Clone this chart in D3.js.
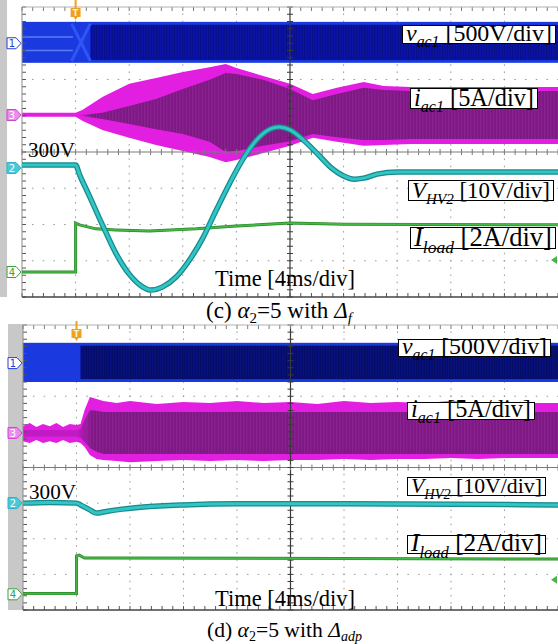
<!DOCTYPE html>
<html>
<head>
<meta charset="utf-8">
<script src="https://cdn.jsdelivr.net/npm/d3@7/dist/d3.min.js"></script>
<style>
html,body{margin:0;padding:0;background:#fff;}
svg{display:block;font-family:"Liberation Serif","Times New Roman",serif;}
</style>
</head>
<body>
<svg id="fig" width="558" height="644"></svg>
<script>
// ===== DATA: time in ms relative to the trigger, amplitudes in scope divisions from screen centre =====
const timeDomain = [-4, 36];   // 10 div x 4 ms/div
const divDomain  = [-4, 4];    // 8 vertical divisions

const labelMain  = ["v", "i", "V", "I"];
const labelSub   = ["ac1", "ac1", "HV2", "load"];
const labelScale = [" [500V/div]", " [5A/div]", " [10V/div]", " [2A/div]"];
const timeText   = "Time [4ms/div]";
const refText    = "300V";
const channelIds = ["1", "3", "2", "4"];
const captionC   = [["(c) ", ""], ["α", "i"], ["2", "sub"], ["=5 with ", ""], ["Δ", "i"], ["f", "subi"]];
const captionD   = [["(d) ", ""], ["α", "i"], ["2", "sub"], ["=5 with ", ""], ["Δ", "i"], ["adp", "subi"]];

// ---- panel (c) ----
const cChannelLevel = [3.00, 1.02, -0.44, -3.31];
const cVacBand  = [2.46, 3.59];
const cIacT     = [-4, 0, 0.5, 2, 4, 6, 8, 10, 11.2, 12, 14, 16, 17.7, 19.5, 21.5, 23, 25, 36];
const cIacOutHi = [1.08, 1.08, 1.16, 1.52, 1.88, 2.04, 2.21, 2.34, 2.43, 2.32, 2.10, 1.88, 1.60, 1.77, 1.93, 1.82, 1.79, 1.79];
const cIacOutLo = [0.97, 0.97, 0.86, 0.61, 0.39, 0.19, 0.03, -0.14, -0.28, -0.22, -0.03, 0.17, 0.39, 0.28, 0.17, 0.19, 0.22, 0.22];
const cIacInHi  = [1.02, 1.02, 1.02, 1.08, 1.27, 1.46, 1.74, 1.99, 2.18, 2.15, 1.99, 1.74, 1.43, 1.60, 1.77, 1.71, 1.68, 1.68];
const cIacInLo  = [1.02, 1.02, 0.99, 0.91, 0.77, 0.63, 0.50, 0.28, 0.00, 0.03, 0.17, 0.30, 0.50, 0.41, 0.33, 0.33, 0.36, 0.36];
const cVhvT     = [-4, 0, 0.3, 1, 2, 3, 4, 5, 5.6, 6.5, 7.5, 8.5, 9.5, 10.5, 11.5, 12.5, 13.5, 14.5, 15.2, 16, 17, 18, 19, 20, 20.8, 21.5, 22.5, 24, 36];
const cVhv      = [-0.36, -0.36, -0.63, -1.19, -2.01, -2.79, -3.37, -3.72, -3.81, -3.72, -3.45, -2.98, -2.37, -1.60, -0.86, -0.19, 0.33, 0.63, 0.69, 0.61, 0.33, -0.03, -0.41, -0.66, -0.75, -0.72, -0.61, -0.55, -0.55];
const cLoadT    = [-4, 0, 0, 0.3, 1.5, 3, 5.5, 9, 12, 16, 20, 36];
const cLoad     = [-3.31, -3.31, -1.96, -2.01, -2.12, -2.15, -2.18, -2.12, -2.04, -1.96, -1.99, -2.01];
const cTrigLevel = -2.98;

// ---- panel (d) ----
const dChannelLevel = [2.93, 0.97, -1.00, -3.56];
const dVacBand  = [2.40, 3.50];
const dIacT     = [-4, -3.5, -3, -2.5, -2, -1.5, -1, -0.5, 0, 0.3, 0.6, 1, 1.5, 2, 3, 4, 6, 8, 10, 12, 14, 16, 18, 20, 22, 24, 26, 28, 30, 32, 34, 36];
const dIacOutHi = [1.16, 1.25, 1.14, 1.22, 1.16, 1.25, 1.14, 1.22, 1.19, 1.22, 1.61, 1.98, 1.92, 1.87, 1.81, 1.87, 1.78, 1.84, 1.81, 1.87, 1.81, 1.84, 1.78, 1.87, 1.81, 1.84, 1.81, 1.87, 1.81, 1.84, 1.81, 1.81];
const dIacOutLo = [0.74, 0.69, 0.77, 0.69, 0.74, 0.69, 0.77, 0.69, 0.72, 0.69, 0.58, 0.35, 0.24, 0.21, 0.18, 0.15, 0.18, 0.21, 0.18, 0.21, 0.18, 0.21, 0.21, 0.24, 0.21, 0.24, 0.24, 0.27, 0.24, 0.27, 0.27, 0.27];
const dIacInHi  = [1.05, 1.05, 1.05, 1.05, 1.05, 1.05, 1.05, 1.05, 1.05, 1.08, 1.33, 1.61, 1.59, 1.56, 1.56, 1.56, 1.56, 1.56, 1.56, 1.56, 1.56, 1.56, 1.56, 1.56, 1.56, 1.56, 1.56, 1.56, 1.56, 1.56, 1.56, 1.56];
const dIacInLo  = [0.86, 0.86, 0.86, 0.86, 0.86, 0.86, 0.86, 0.86, 0.86, 0.83, 0.72, 0.55, 0.44, 0.38, 0.38, 0.38, 0.38, 0.38, 0.38, 0.38, 0.38, 0.38, 0.38, 0.38, 0.38, 0.38, 0.38, 0.38, 0.38, 0.38, 0.38, 0.38];
const dVhvT     = [-4, -2, 0, 0.3, 1, 1.5, 2, 3, 5, 8, 12, 20, 36];
const dVhv      = [-1.00, -0.98, -1.00, -1.05, -1.19, -1.28, -1.25, -1.19, -1.11, -1.05, -1.02, -1.02, -1.05];
const dLoadT    = [-4, 0, 0, 0.2, 0.6, 2, 36];
const dLoad     = [-3.54, -3.54, -2.48, -2.46, -2.54, -2.54, -2.57];
const dTrigLevel = -3.15;

// ===== LAYOUT / STYLE =====
const C = {
  blue: "#1a3ae0", blueStripe: "#5c7cf4",
  mag: "#e21fe0", magMid: "#c11cc4", purple: "#7f1884",
  teal: "#33c4c4", tealDark: "#168a8c", green: "#44b844", greenDark: "#2a8a2a",
  grid: "#9c9c9c", axis: "#7a7a7a", axisV: "#3a3a3a", strip: "#c8c8c8", orange: "#f0a020"
};

const svg = d3.select("#fig");
const defs = svg.append("defs");

function zip(ts, ...arrs) { return ts.map((t, i) => ({t, v: arrs.map(a => a[i])})); }

function drawPanel(P) {
  const x = d3.scaleLinear().domain(timeDomain).range([P.left, P.right]);
  const y = d3.scaleLinear().domain(divDomain).range([P.bottom, P.top]);
  const g = svg.append("g");

  // gray side strip
  g.append("rect").attr("x", P.strip[0]).attr("y", P.strip[1])
    .attr("width", P.strip[2] - P.strip[0]).attr("height", P.strip[3] - P.strip[1]).attr("fill", C.strip);

  // dotted grid
  const vLines = d3.range(timeDomain[0] + 4, timeDomain[1], 4).filter(t => t !== 16);
  const hLines = d3.range(divDomain[0] + 1, divDomain[1], 1).filter(v => v !== 0);
  const stepX = (x(4) - x(0)) / 5, stepY = (y(0) - y(1)) / 5;
  g.selectAll(".vg").data(vLines).enter().append("line")
    .attr("x1", d => x(d)).attr("x2", d => x(d)).attr("y1", P.top).attr("y2", P.bottom)
    .attr("stroke", C.grid).attr("stroke-width", 1)
    .attr("stroke-dasharray", `1.6 ${stepY - 1.6}`).attr("stroke-dashoffset", 0.8);
  g.selectAll(".hg").data(hLines).enter().append("line")
    .attr("x1", P.left).attr("x2", P.right).attr("y1", d => y(d)).attr("y2", d => y(d))
    .attr("stroke", C.grid).attr("stroke-width", 1)
    .attr("stroke-dasharray", `1.6 ${stepX - 1.6}`).attr("stroke-dashoffset", 0.8);

  // v_ac1 band
  const vb = P.vac;
  g.append("rect").attr("x", x(timeDomain[0])).attr("width", x(timeDomain[1]) - x(timeDomain[0]))
    .attr("y", y(vb[1])).attr("height", y(vb[0]) - y(vb[1])).attr("fill", C.blue);
  g.append("rect").attr("x", x(P.navyStart)).attr("width", x(timeDomain[1]) - x(P.navyStart))
    .attr("y", y(vb[1] - P.navyEdge)).attr("height", y(vb[0] + P.navyEdge) - y(vb[1] - P.navyEdge))
    .attr("fill", P.navy);
  const bpid = "bp" + P.id;
  const bpat = defs.append("pattern").attr("id", bpid).attr("patternUnits", "userSpaceOnUse")
    .attr("width", 2.6).attr("height", 10);
  bpat.append("rect").attr("width", 0.9).attr("height", 10).attr("fill", "#000").attr("opacity", 0.25);
  g.append("rect").attr("x", x(P.navyStart)).attr("width", x(timeDomain[1]) - x(P.navyStart))
    .attr("y", y(vb[1] - P.navyEdge)).attr("height", y(vb[0] + P.navyEdge) - y(vb[1] - P.navyEdge))
    .attr("fill", `url(#${bpid})`);
  if (P.stripes) {
    const ln = d3.line().x(d => x(d[0])).y(d => y(d[1]));
    const a = vb[0] + (vb[1] - vb[0]) * 0.3, b = vb[0] + (vb[1] - vb[0]) * 0.63;
    [[[timeDomain[0], a], [-0.2, a]], [[timeDomain[0], b], [-0.2, b]]].forEach(p =>
      g.append("path").attr("d", ln(p)).attr("fill", "none").attr("stroke", C.blueStripe).attr("stroke-width", 1.4));
    [[[-0.3, vb[1] - 0.05], [1.1, vb[0] + 0.05]], [[-0.3, vb[0] + 0.05], [1.1, vb[1] - 0.05]]].forEach(p =>
      g.append("path").attr("d", ln(p)).attr("fill", "none").attr("stroke", "#2f55f4").attr("stroke-width", 3));
  }

  // i_ac1 envelopes
  const outer = zip(P.iacT, P.iacOutHi, P.iacOutLo);
  const inner = zip(P.iacT, P.iacInHi, P.iacInLo);
  const area = d3.area().x(d => x(d.t)).y0(d => y(d.v[1])).y1(d => y(d.v[0]));
  g.append("path").attr("d", area(outer)).attr("fill", C.mag);
  const gid = "gr" + P.id;
  const grad = defs.append("linearGradient").attr("id", gid)
    .attr("gradientUnits", "userSpaceOnUse").attr("x1", x(0)).attr("x2", x(1.2)).attr("y1", 0).attr("y2", 0);
  grad.append("stop").attr("offset", 0).attr("stop-color", P.innerPre);
  grad.append("stop").attr("offset", 1).attr("stop-color", C.purple);
  g.append("path").attr("d", area(inner)).attr("fill", `url(#${gid})`);
  // switching ripple texture
  const pid = "pt" + P.id;
  const pat = defs.append("pattern").attr("id", pid).attr("patternUnits", "userSpaceOnUse")
    .attr("width", 3.2).attr("height", 10);
  pat.append("rect").attr("x", 0).attr("y", 0).attr("width", 1).attr("height", 10).attr("fill", "#a844b0").attr("opacity", 0.3);
  g.append("path").attr("d", area(inner.filter(d => d.t >= 0.5))).attr("fill", `url(#${pid})`);

  // centre axes with ticks, borders
  const tx = d3.range(timeDomain[0], timeDomain[1] + 0.001, 0.8);
  const ty = d3.range(divDomain[0], divDomain[1] + 0.001, 0.2);
  g.append("line").attr("x1", P.left).attr("x2", P.right).attr("y1", y(0)).attr("y2", y(0))
    .attr("stroke", C.axis).attr("stroke-width", 1.2);
  g.append("line").attr("x1", x(16)).attr("x2", x(16)).attr("y1", P.top).attr("y2", P.bottom)
    .attr("stroke", C.axisV).attr("stroke-width", 1.2);
  g.selectAll(".tkh").data(tx).enter().append("line")
    .attr("x1", d => x(d)).attr("x2", d => x(d)).attr("y1", y(0) - 3).attr("y2", y(0) + 3)
    .attr("stroke", C.axis).attr("stroke-width", 1);
  g.selectAll(".tkv").data(ty).enter().append("line")
    .attr("x1", x(16) - 3).attr("x2", x(16) + 3).attr("y1", d => y(d)).attr("y2", d => y(d))
    .attr("stroke", C.axisV).attr("stroke-width", 1);
  g.selectAll(".tkt").data(tx).enter().append("line")
    .attr("x1", d => x(d)).attr("x2", d => x(d)).attr("y1", P.top).attr("y2", P.top + 4)
    .attr("stroke", C.axis).attr("stroke-width", 1);
  g.selectAll(".tkb").data(tx).enter().append("line")
    .attr("x1", d => x(d)).attr("x2", d => x(d)).attr("y1", P.bottom - 4).attr("y2", P.bottom)
    .attr("stroke", "#555").attr("stroke-width", 1);
  g.selectAll(".tkl").data(ty).enter().append("line")
    .attr("x1", P.left).attr("x2", P.left + 4).attr("y1", d => y(d)).attr("y2", d => y(d))
    .attr("stroke", "#555").attr("stroke-width", 1);
  g.append("line").attr("x1", P.left).attr("x2", P.right).attr("y1", P.top).attr("y2", P.top)
    .attr("stroke", "#b0b0b0").attr("stroke-width", 1);
  g.append("line").attr("x1", P.left).attr("x2", P.right).attr("y1", P.bottom).attr("y2", P.bottom)
    .attr("stroke", "#444").attr("stroke-width", 1.5);
  g.append("line").attr("x1", P.left).attr("x2", P.left).attr("y1", P.top).attr("y2", P.bottom)
    .attr("stroke", "#8a8a8a").attr("stroke-width", 1);

  // I_load and V_HV2 traces
  const line = d3.line().x(d => x(d.t)).y(d => y(d.v[0]));
  const load = zip(P.loadT, P.load);
  g.append("path").attr("d", line(load)).attr("fill", "none").attr("stroke", C.greenDark).attr("stroke-width", 3);
  g.append("path").attr("d", line(load)).attr("fill", "none").attr("stroke", C.green).attr("stroke-width", 1.6);
  const vhv = zip(P.vhvT, P.vhv);
  const curve = d3.line().curve(d3.curveMonotoneX).x(d => x(d.t)).y(d => y(d.v[0]));
  g.append("path").attr("d", curve(vhv)).attr("fill", "none").attr("stroke", C.tealDark).attr("stroke-width", 5.5);
  g.append("path").attr("d", curve(vhv)).attr("fill", "none").attr("stroke", C.teal).attr("stroke-width", 3);

  // trigger marker (top) and trigger level arrow (right)
  const tx0 = x(0);
  g.append("rect").attr("x", tx0 - 1).attr("y", P.trigY - 8).attr("width", 2).attr("height", 8).attr("fill", C.orange);
  g.append("path").attr("d", `M${tx0 - 5},${P.trigY} h10 v9 h-3 l-2,3 l-2,-3 h-3 z`).attr("fill", C.orange);
  g.append("text").attr("x", tx0).attr("y", P.trigY + 8).attr("text-anchor", "middle")
    .attr("font-family", "DejaVu Sans, sans-serif").attr("font-size", 8).attr("font-weight", "bold")
    .attr("fill", "#fff3c0").text("T");
  const ly = y(P.trigLevel);
  g.append("path").attr("d", `M${P.right - 7},${ly} l6,-4 v8 z`).attr("fill", C.green);

  // channel markers
  const mk = [
    {fill: "#fff", stroke: "#2040d0", text: "#2040d0"},
    {fill: "#ea8cea", stroke: "#d040d0", text: "#fff"},
    {fill: "#48c8d8", stroke: "#30b0c0", text: "#fff"},
    {fill: "#fff", stroke: "#3aa03a", text: "#3aa03a"}
  ];
  P.chLevel.forEach((lv, i) => {
    const yy = y(lv), x0 = P.markX;
    g.append("path").attr("d", `M${x0},${yy - 5.5} h9 l5,5.5 l-5,5.5 h-9 z`)
      .attr("fill", mk[i].fill).attr("stroke", mk[i].stroke).attr("stroke-width", 1);
    g.append("text").attr("x", x0 + 5).attr("y", yy + 4).attr("text-anchor", "middle")
      .attr("font-family", "DejaVu Sans, sans-serif").attr("font-size", 10)
      .attr("fill", mk[i].text).text(channelIds[i]);
  });

  // channel labels in boxes
  P.boxes.forEach((b, i) => {
    g.append("rect").attr("x", b[0] + 0.5).attr("y", b[1] + 0.5).attr("width", b[2]).attr("height", b[3])
      .attr("fill", "#fff").attr("stroke", "#000").attr("stroke-width", 1);
    const t = g.append("text").attr("x", b[0] + 4).attr("y", b[1] + b[3] - 2).attr("font-size", 21).attr("fill", "#000");
    t.append("tspan").attr("font-style", "italic").text(labelMain[i]);
    t.append("tspan").attr("font-style", "italic").attr("font-size", "0.66em").attr("dy", "0.4em").text(labelSub[i]);
    t.append("tspan").attr("dy", "-0.264em").text(labelScale[i]);
    const w = t.node().getComputedTextLength();
    t.attr("font-size", 21 * (b[2] - 7) / w);
  });

  // 300V reference text and time base text
  const rt = g.append("text").attr("x", P.refPos[0]).attr("y", P.refPos[1]).attr("font-size", 21).attr("fill", "#000").text(refText);
  rt.attr("font-size", 21 * 47 / rt.node().getComputedTextLength());
  const tt = g.append("text").attr("x", P.timePos[0]).attr("y", P.timePos[1]).attr("font-size", 22).attr("fill", "#000").text(timeText);
  tt.attr("font-size", 22 * 140 / tt.node().getComputedTextLength());

  // caption
  const cap = svg.append("text").attr("x", P.capPos[0]).attr("y", P.capPos[1]).attr("font-size", 20).attr("fill", "#000");
  let shift = 0;
  P.caption.forEach(([s, k]) => {
    const ts = cap.append("tspan").text(s);
    if (k === "i") ts.attr("font-style", "italic");
    if (k === "sub" || k === "subi") {
      ts.attr("font-size", "0.65em").attr("dy", "0.3em");
      if (k === "subi") ts.attr("font-style", "italic");
      shift = 1;
    } else if (shift) { ts.attr("dy", "-0.195em"); shift = 0; }
  });
  cap.attr("font-size", 20 * P.capW / cap.node().getComputedTextLength());
}

drawPanel({
  id: "c", left: 22, right: 558, top: 7, bottom: 297, strip: [0, 0, 7, 297], markX: 7, trigY: 8,
  vac: cVacBand, navy: "#0b13a8", navyStart: 1.1, navyEdge: 0.08, stripes: true, innerPre: C.mag,
  iacT: cIacT, iacOutHi: cIacOutHi, iacOutLo: cIacOutLo, iacInHi: cIacInHi, iacInLo: cIacInLo,
  vhvT: cVhvT, vhv: cVhv, loadT: cLoadT, load: cLoad, trigLevel: cTrigLevel, chLevel: cChannelLevel,
  boxes: [[402, 25, 153, 18], [410, 88, 127, 20], [408, 180, 145, 20], [410, 227, 145, 21]],
  refPos: [28, 157], timePos: [215, 286], capPos: [206, 318], capW: 146, caption: captionC
});
drawPanel({
  id: "d", left: 23, right: 558, top: 325, bottom: 610, strip: [8, 324, 23, 610], markX: 8, trigY: 329,
  vac: dVacBand, navy: "#07107c", navyStart: 0.3, navyEdge: 0.08, stripes: false, innerPre: C.magMid,
  iacT: dIacT, iacOutHi: dIacOutHi, iacOutLo: dIacOutLo, iacInHi: dIacInHi, iacInLo: dIacInLo,
  vhvT: dVhvT, vhv: dVhv, loadT: dLoadT, load: dLoad, trigLevel: dTrigLevel, chLevel: dChannelLevel,
  boxes: [[398, 339, 152, 17], [407, 402, 127, 17], [407, 477, 138, 18], [407, 535, 138, 18]],
  refPos: [29, 499], timePos: [215, 606], capPos: [207, 637], capW: 155, caption: captionD
});
</script>
</body>
</html>
